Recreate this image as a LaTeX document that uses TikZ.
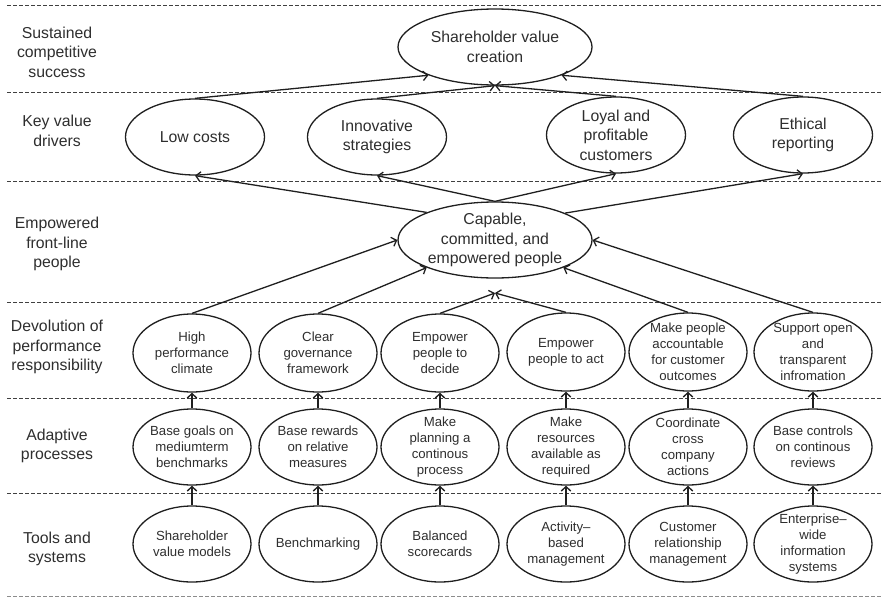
\documentclass[tikz,border=0pt]{standalone}
\usepackage{fontspec}
\setmainfont{Liberation Sans}
\usetikzlibrary{shapes.geometric,arrows.meta}
\begin{document}
\begin{tikzpicture}[x=1pt,y=-1pt,
  bigfont/.style={font=\fontsize{15.8}{19.5}\selectfont},
  smallfont/.style={font=\fontsize{13.2}{16}\selectfont},
  txt/.style={align=center,inner sep=0pt,text=black!82},
  oval/.style={ellipse,draw=black!88,line width=1.3pt,inner sep=0pt},
  wideoval/.style={oval,minimum width=194pt,minimum height=76pt},
  driver/.style={oval,minimum width=139pt,minimum height=76pt},
  lever/.style={oval,minimum width=118pt,minimum height=78pt},
  tierlabel/.style={txt,bigfont},
  sep/.style={draw=black!75,line width=0.9pt,dash pattern=on 4pt off 2pt},
  arr/.style={draw=black!88,line width=1.3pt,-{Straight Barb[length=4.5pt,width=9.5pt]}}
]
\useasboundingbox (0,0) rectangle (883,597);

% tier separators
\draw[sep] (7,5) -- (883,5);
\draw[sep] (7,92) -- (883,92);
\draw[sep] (7,181) -- (883,181);
\draw[sep] (7,302) -- (883,302);
\draw[sep] (7,398) -- (883,398);
\draw[sep] (7,493) -- (883,493);
\draw[sep,draw=black!45] (7,596) -- (883,596);

% tier names
\node[tierlabel] (t1) at (57,52)  {Sustained\\competitive\\success};
\node[tierlabel] (t2) at (57,131) {Key value\\drivers};
\node[tierlabel] (t3) at (57,244) {Empowered\\front-line\\people};
\node[tierlabel] (t4) at (57,347) {Devolution of\\performance\\responsibility};
\node[tierlabel] (t5) at (57,446) {Adaptive\\processes};
\node[tierlabel] (t6) at (57,549) {Tools and\\systems};

% top goal
\node[wideoval,label={[txt,bigfont]center:{Shareholder value\\creation}}] (sh) at (495,47) {};

% key value drivers
\node[driver,label={[txt,bigfont]center:{Low costs}}] (lc) at (195,137) {};
\node[driver,label={[txt,bigfont]center:{Innovative\\strategies}}] (is) at (377,137) {};
\node[driver,label={[txt,bigfont]center:{Loyal and\\profitable\\customers}}] (lp) at (616,135) {};
\node[driver,label={[txt,bigfont]center:{Ethical\\reporting}}] (er) at (803,135) {};

% people
\node[wideoval,label={[txt,bigfont]center:{Capable,\\committed, and\\empowered people}}] (cp) at (495,240) {};
\coordinate (meet) at (495,293);

% devolution of responsibility
\node[lever,label={[txt,smallfont]center:{High\\performance\\climate}}] (d1) at (192,353) {};
\node[lever,label={[txt,smallfont]center:{Clear\\governance\\framework}}] (d2) at (318,353) {};
\node[lever,label={[txt,smallfont]center:{Empower\\people to\\decide}}] (d3) at (440,353) {};
\node[lever,label={[txt,smallfont]center:{Empower\\people to act}}] (d4) at (566,352) {};
\node[lever,label={[txt,smallfont]center:{Make people\\accountable\\for customer\\outcomes}}] (d5) at (688,352) {};
\node[lever,label={[txt,smallfont]center:{Support open\\and\\transparent\\infromation}}] (d6) at (813,352) {};

% adaptive processes
\node[lever,minimum height=76pt,label={[txt,smallfont]center:{Base goals on\\mediumterm\\benchmarks}}] (p1) at (192,447) {};
\node[lever,minimum height=76pt,label={[txt,smallfont]center:{Base rewards\\on relative\\measures}}] (p2) at (318,447) {};
\node[lever,minimum height=76pt,label={[txt,smallfont]center:{Make\\planning a\\continous\\process}}] (p3) at (440,447) {};
\node[lever,minimum height=76pt,label={[txt,smallfont]center:{Make\\resources\\available as\\required}}] (p4) at (566,447) {};
\node[lever,minimum height=76pt,label={[txt,smallfont]center:{Coordinate\\cross\\company\\actions}}] (p5) at (688,447) {};
\node[lever,minimum height=76pt,label={[txt,smallfont]center:{Base controls\\on continous\\reviews}}] (p6) at (813,447) {};

% tools and systems
\node[lever,minimum height=76pt,label={[txt,smallfont]center:{Shareholder\\value models}}] (s1) at (192,544) {};
\node[lever,minimum height=76pt,label={[txt,smallfont]center:{Benchmarking}}] (s2) at (318,544) {};
\node[lever,minimum height=76pt,label={[txt,smallfont]center:{Balanced\\scorecards}}] (s3) at (440,544) {};
\node[lever,minimum height=76pt,label={[txt,smallfont]center:{Activity–\\based\\management}}] (s4) at (566,544) {};
\node[lever,minimum height=76pt,label={[txt,smallfont]center:{Customer\\relationship\\management}}] (s5) at (688,544) {};
\node[lever,minimum height=76pt,label={[txt,smallfont]center:{Enterprise–\\wide\\information\\systems}}] (s6) at (813,544) {};

% drivers feed shareholder value
\draw[arr] (lc.north) -- (sh.203);
\draw[arr] (is.north) -- (sh.south);
\draw[arr] (lp.north) -- (sh.south);
\draw[arr] (er.north) -- (sh.337);

% people enable the drivers
\draw[arr] (cp.158) -- (lc.south);
\draw[arr] (cp.north) -- (is.south);
\draw[arr] (cp.north) -- (lp.south);
\draw[arr] (cp.21) -- (er.south);

% devolution empowers people
\draw[arr] (d1.north) -- (cp.west);
\draw[arr] (d2.north) -- (cp.202);
\draw[arr] (d3.north) -- (meet);
\draw[arr] (d4.north) -- (meet);
\draw[arr] (d5.north) -- (cp.338);
\draw[arr] (d6.north) -- (cp.east);

% processes and tools
\foreach \i in {1,...,6} {
  \draw[arr] (p\i.north) -- (d\i.south);
  \draw[arr] (s\i.north) -- (p\i.south);
}
\end{tikzpicture}
\end{document}
